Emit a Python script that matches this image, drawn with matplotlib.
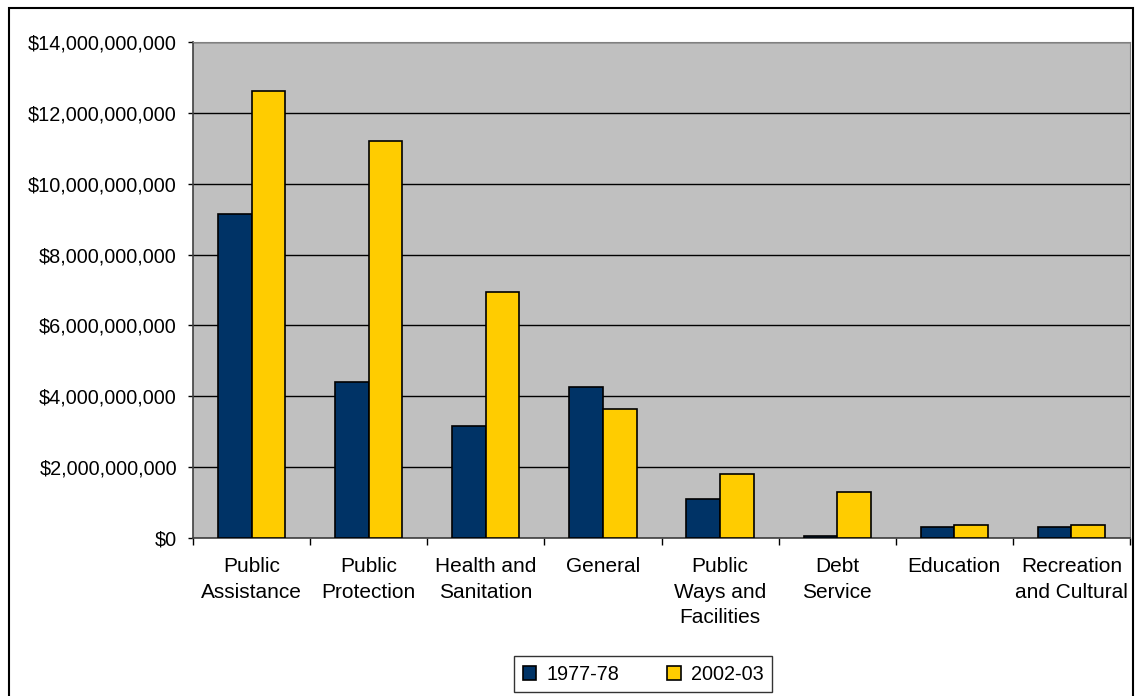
import numpy as np
import matplotlib
matplotlib.use('Agg')
from matplotlib import pyplot as plt
from matplotlib.ticker import FuncFormatter, MultipleLocator, FixedLocator
from matplotlib.patches import Rectangle

categories = ['Public\nAssistance', 'Public\nProtection', 'Health and\nSanitation', 'General',
              'Public\nWays and\nFacilities', 'Debt\nService', 'Education', 'Recreation\nand Cultural']
y1977 = [9.14e9, 4.40e9, 3.17e9, 4.26e9, 1.10e9, 0.05e9, 0.31e9, 0.31e9]
y2002 = [12.62e9, 11.21e9, 6.95e9, 3.64e9, 1.80e9, 1.30e9, 0.36e9, 0.36e9]
series_names = ['1977-78', '2002-03']

plt.rcParams['font.family'] = ['Liberation Sans', 'DejaVu Sans']
plt.rcParams['font.size'] = 14.3

fig = plt.figure(figsize=(11.35, 6.96), dpi=100)
W, H = 1135, 696
ax = fig.add_axes([193/W, 1-538/H, (1130-193)/W, (538-42)/H])
ax.set_facecolor('#C0C0C0')

x = np.arange(len(categories))
bw = 0.287
ax.bar(x - bw/2, y1977, bw, color='#003366', edgecolor='black', linewidth=1.2, label=series_names[0], zorder=3)
ax.bar(x + bw/2, y2002, bw, color='#FFCC00', edgecolor='black', linewidth=1.2, label=series_names[1], zorder=3)

ax.set_xlim(-0.5, len(categories) - 0.5)
ax.set_ylim(0, 14e9)
ax.yaxis.set_major_locator(MultipleLocator(2e9))
ax.yaxis.set_major_formatter(FuncFormatter(lambda v, p: '${:,.0f}'.format(v)))
ax.grid(axis='y', color='black', linewidth=1.0, zorder=1)

ax.set_xticks(x)
ax.set_xticklabels(categories, linespacing=1.43, va='top', fontsize=15)
ax.xaxis.set_minor_locator(FixedLocator(np.arange(-0.5, len(categories), 1.0)))
ax.tick_params(axis='x', which='major', length=0, pad=14)
ax.tick_params(axis='x', which='minor', length=5, width=1, direction='out')
ax.tick_params(axis='y', length=3.6, width=1, direction='out', pad=8)

for s in ['top', 'right']:
    ax.spines[s].set_color('#808080')
for s in ['left', 'bottom']:
    ax.spines[s].set_color('#404040')
    ax.spines[s].set_linewidth(1.2)

leg = ax.legend(loc='center', bbox_to_anchor=(643/W, 1-674/H), bbox_transform=fig.transFigure,
                ncol=2, frameon=True, fancybox=False, edgecolor='black', handlelength=0.7,
                handleheight=0.7, handletextpad=0.5, columnspacing=2.4, borderpad=0.45)
leg.get_frame().set_linewidth(1.0)

fig.patches.append(Rectangle((9/W, -0.05), (1133-9)/W, (688/H) + 0.05, transform=fig.transFigure,
                             fill=False, edgecolor='black', linewidth=1.5))

fig.savefig('out.png', dpi=100)
